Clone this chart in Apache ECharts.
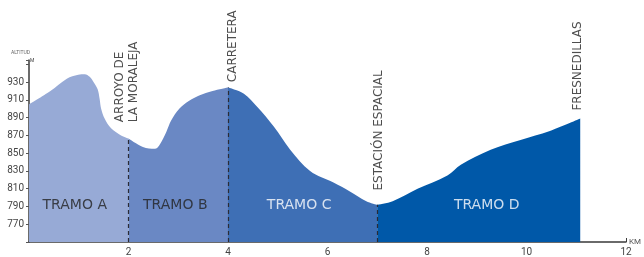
<!DOCTYPE html>
<html>
<head>
<meta charset="utf-8">
<script src="https://cdn.jsdelivr.net/npm/echarts@6/dist/echarts.min.js"></script>
<style>
html,body{margin:0;padding:0;background:#fff;}
#chart{width:644px;height:257px;}
</style>
</head>
<body>
<div id="chart"></div>
<script>
// Elevation profile by section: [km, altitude m]
const tramoA = [[0,905],[0.43,920],[0.76,934],[0.99,938.5],[1.12,939],[1.22,936],[1.3,930],[1.38,922],[1.42,911],[1.45,900],[1.52,889],[1.65,878],[1.85,870],[2.0,866.5]];
const tramoB = [[2.0,866.5],[2.29,857],[2.53,855],[2.62,859],[2.76,874],[2.86,887],[3.02,900],[3.22,909],[3.42,915],[3.69,920],[4.0,924]];
const tramoC = [[4.0,924],[4.32,917],[4.59,902],[4.92,880],[5.25,854],[5.65,830],[6.12,817],[6.45,807],[6.78,796],[7.0,792]];
const tramoD = [[7.0,792],[7.31,796],[7.81,810],[8.41,825],[8.68,837],[9.28,854],[9.88,865],[10.47,875],[11.08,889]];

const tramoNames = ['TRAMO A','TRAMO B','TRAMO C','TRAMO D'];
const tramoLabelKm = [0.92, 2.94, 5.43, 9.2];
const tramoLabelAlt = 791;

const placeNames = ['ARROYO DE\nLA MORALEJA','CARRETERA','ESTACIÓN ESPACIAL','FRESNEDILLAS'];
const placeKm = [1.97, 4.1, 7.03, 11.03];
const placeAlt = [885, 930, 808, 898];

const boundaryKm = [2, 4, 7];
const boundaryAlt = [866.5, 924, 792];

const yTicks = [770, 790, 810, 830, 850, 870, 890, 910, 930];
const xTicks = [2, 4, 6, 8, 10, 12];

const colors = ['#97aad6', '#6a88c4', '#3e6fb5', '#0058a8'];
const tramoTextColors = ['#222222', '#222222', '#ffffff', '#ffffff'];

const chart = echarts.init(document.getElementById('chart'), null, {renderer: 'canvas'});

const sections = [tramoA, tramoB, tramoC, tramoD];
const series = sections.map((d, i) => ({
  type: 'line',
  data: d,
  smooth: 0.35,
  showSymbol: false,
  symbol: 'none',
  lineStyle: {width: 0, color: colors[i]},
  itemStyle: {color: colors[i]},
  areaStyle: {color: colors[i], opacity: 1, origin: 'start'},
  silent: true,
  z: 2
}));

series.push({
  type: 'line',
  data: [],
  silent: true,
  markLine: {
    silent: true,
    symbol: ['none', 'none'],
    label: {show: false},
    lineStyle: {color: '#2b2b35', type: [4, 3], width: 1.2},
    data: boundaryKm.map((k, i) => [{coord: [k, 750]}, {coord: [k, boundaryAlt[i]]}])
  }
});

const labelData = [];
tramoNames.forEach((n, i) => {
  labelData.push({
    value: [tramoLabelKm[i], tramoLabelAlt],
    label: {show: true, formatter: n, position: 'inside', align: 'center', verticalAlign: 'middle',
      color: tramoTextColors[i], fontSize: 14, fontFamily: 'DejaVu Sans'}
  });
});
placeNames.forEach((n, i) => {
  labelData.push({
    value: [placeKm[i], placeAlt[i]],
    label: {show: true, formatter: n, position: 'inside', rotate: 90, align: 'left', verticalAlign: 'middle',
      color: '#222222', fontSize: 12, lineHeight: 14, fontFamily: 'DejaVu Sans'}
  });
});
series.push({
  type: 'scatter',
  data: labelData,
  symbolSize: 0,
  silent: true,
  z: 10,
  labelLayout: {hideOverlap: false}
});

chart.setOption({
  animation: false,
  grid: {left: 29, right: 14, top: 60, bottom: 13},
  xAxis: {
    type: 'value', min: 0, max: 12, interval: 2,
    name: 'KM', nameLocation: 'end', nameGap: 3,
    nameTextStyle: {fontSize: 8, color: '#555', fontFamily: 'Roboto', padding: [0, 0, 4, 0]},
    axisLine: {show: true, lineStyle: {color: '#3a3a3a', width: 1.5}},
    axisTick: {show: true, inside: true, length: 4, lineStyle: {color: '#3a3a3a', width: 1}},
    axisLabel: {fontSize: 10, color: '#444', fontFamily: 'Roboto', margin: 5,
      formatter: v => xTicks.indexOf(v) >= 0 ? String(v) : ''},
    splitLine: {show: false}
  },
  yAxis: {
    type: 'value', min: 750, max: 955, interval: 20,
    axisLine: {show: true, lineStyle: {color: '#3a3a3a', width: 1.5}},
    axisTick: {show: true, length: 3, lineStyle: {color: '#555', width: 1}},
    axisLabel: {fontSize: 10, color: '#444', fontFamily: 'Roboto', margin: 5,
      formatter: v => yTicks.indexOf(v) >= 0 ? String(v) : ''},
    splitLine: {show: false}
  },
  graphic: [
    {type: 'text', left: 11, top: 50, style: {text: 'ALTITUD', fontSize: 5, fill: '#666', fontFamily: 'Roboto'}},
    {type: 'text', left: 30, top: 58, style: {text: 'M', fontSize: 5, fill: '#444', fontFamily: 'Roboto'}}
  ],
  series: series
});
</script>
</body>
</html>
